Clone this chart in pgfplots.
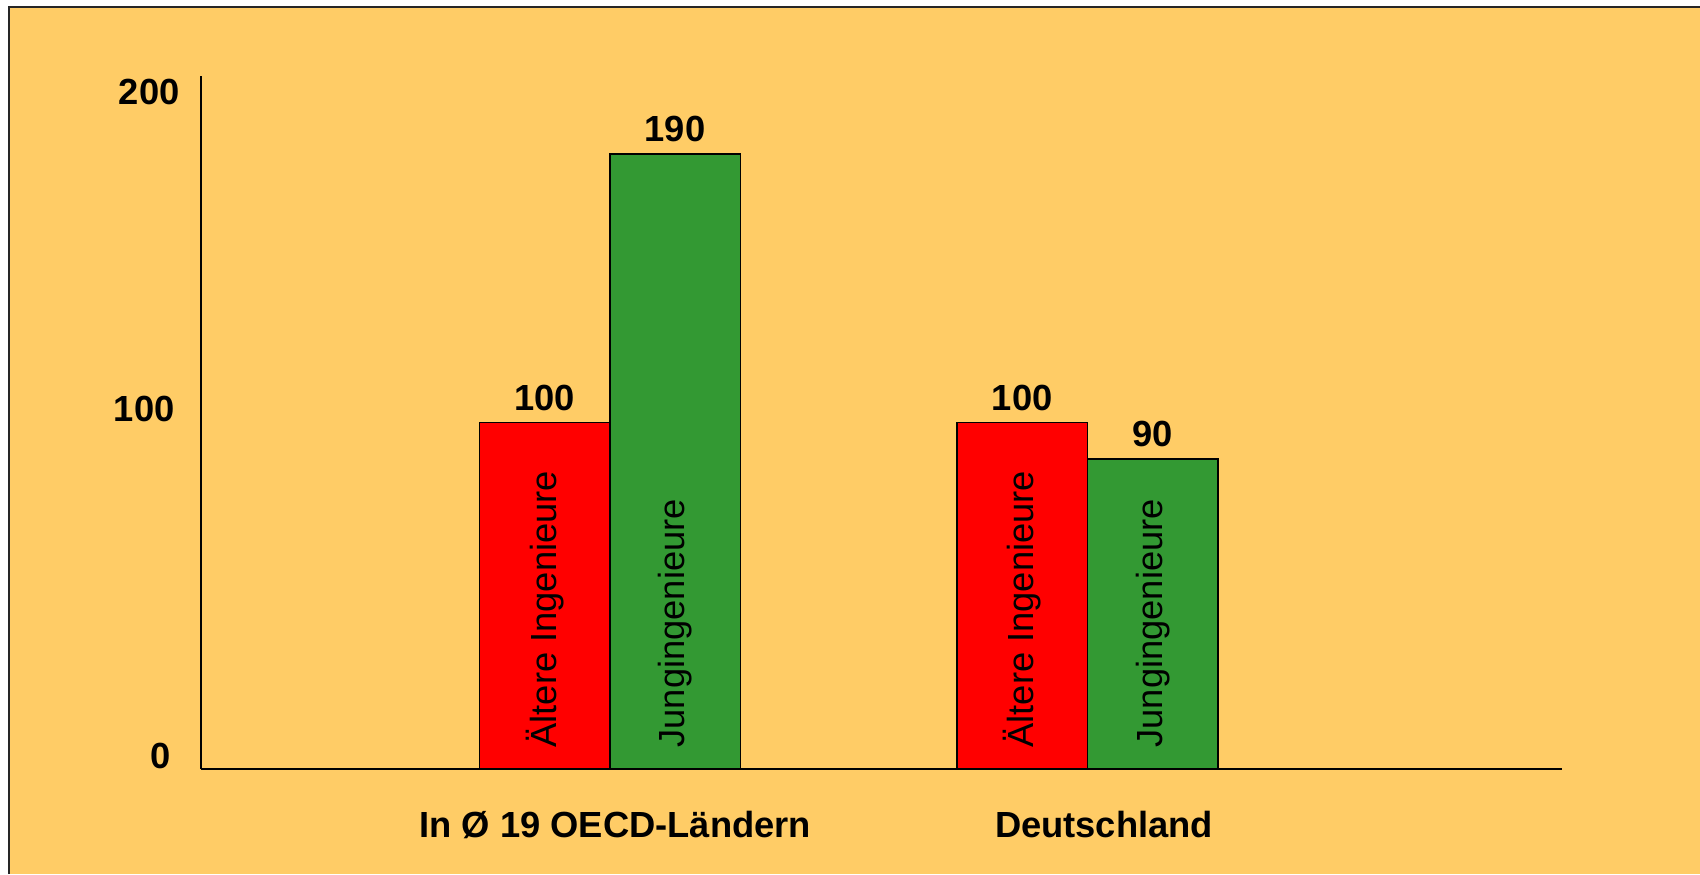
\documentclass[border=0pt]{standalone}
\usepackage{fontspec}
\setmainfont{Liberation Sans}
\usepackage{pgfplots}
\pgfplotsset{compat=1.18}
\definecolor{bgor}{HTML}{FFCC66}
\definecolor{barred}{HTML}{FF0000}
\definecolor{bargreen}{HTML}{339933}
\begin{document}
\begin{tikzpicture}
\fill[white] (-60.18pt,-31.5pt) rectangle (449.82pt,230.7pt);
\fill[bgor] (-57.48pt,-31.5pt) rectangle (449.82pt,228.6pt);
\draw[line width=0.5pt,black!85] (-57.48pt,-31.5pt) -- (-57.48pt,228.6pt) -- (449.82pt,228.6pt);
\begin{axis}[
  at={(0pt,0pt)}, anchor=south west,
  scale only axis, width=408.3pt, height=207.9pt,
  xmin=-0.857, xmax=1.993, ymin=0, ymax=200,
  axis x line=bottom, axis y line=left,
  axis line style={-, line width=0.6pt, black},
  major tick length=0pt,
  font=\fontsize{10.9}{13}\selectfont,
  xtick={0.0113,1.0348},
  xticklabels={\textbf{In Ø 19 OECD-Ländern}, \textbf{Deutschland}},
  xticklabel style={anchor=base, yshift=-20.4pt, inner sep=0pt},
  ytick={3.7,104,195.4},
  yticklabels={\textbf{0}, \textbf{100}\kern-1.3pt, \textbf{200}\kern-2.8pt},
  yticklabel style={anchor=east, inner sep=0pt, xshift=-8.9pt},
  clip=false,
  nodes near coords,
  point meta=explicit symbolic,
  nodes near coords style={font=\fontsize{10.9}{13}\selectfont\bfseries, anchor=base, inner sep=0pt, yshift=3.6pt},
]
\addplot[ybar, bar width=0.2733, bar shift=0pt, fill=barred, draw=black, line width=0.4pt]
  coordinates {(-0.1366,100) [100] (0.8634,100) [100]};
\addplot[ybar, bar width=0.2733, bar shift=0pt, fill=bargreen, draw=black, line width=0.4pt]
  coordinates {(0.1366,177.5) [190] (1.1366,89.5) [90]};
\node[rotate=90, anchor=west, inner sep=0pt] at (axis cs:-0.1366,6) {Ältere Ingenieure};
\node[rotate=90, anchor=west, inner sep=0pt] at (axis cs:0.1366,6) {Jungingenieure};
\node[rotate=90, anchor=west, inner sep=0pt] at (axis cs:0.8634,6) {Ältere Ingenieure};
\node[rotate=90, anchor=west, inner sep=0pt] at (axis cs:1.1366,6) {Jungingenieure};
\end{axis}
\pgfresetboundingbox
\useasboundingbox (-60.18pt,-31.5pt) rectangle (449.82pt,230.7pt);
\end{tikzpicture}
\end{document}
